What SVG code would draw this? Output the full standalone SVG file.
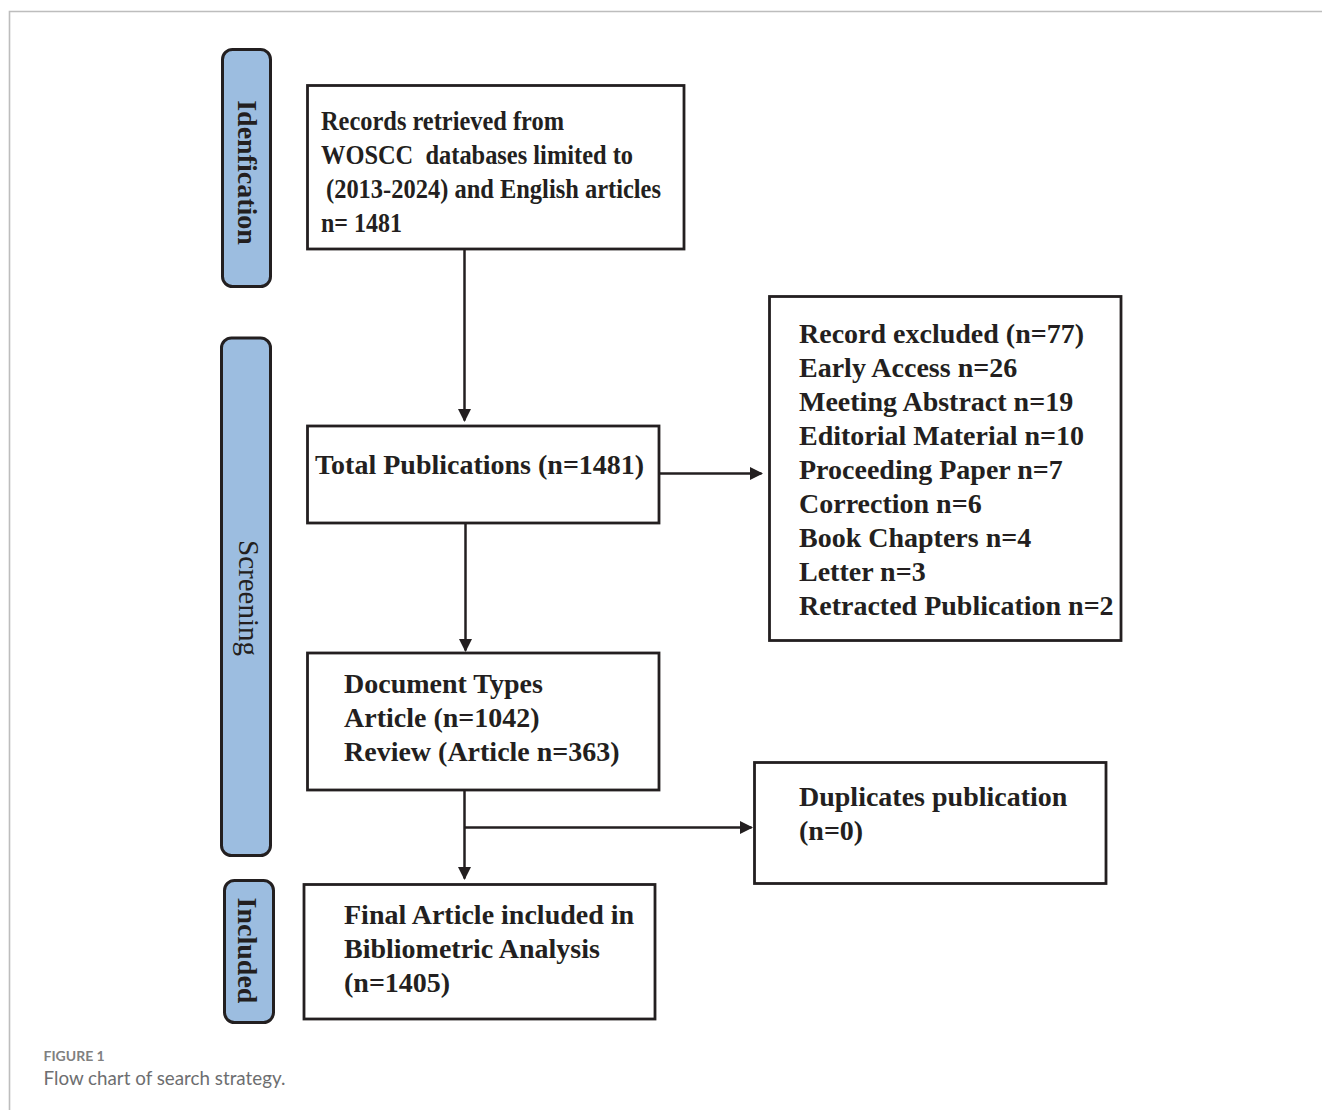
<svg xmlns="http://www.w3.org/2000/svg" width="1322" height="1110" viewBox="0 0 1322 1110">
<style>
.frame{fill:none;stroke:#bdbdbd;stroke-width:1.6}
.side{fill:#9cbde0;stroke:#231f20;stroke-width:3}
.box{fill:#ffffff;stroke:#231f20;stroke-width:2.8}
.t{font-family:"Liberation Serif","Times New Roman",serif;font-size:28px;font-weight:bold;fill:#231f20}
.sl{font-family:"Liberation Serif","Times New Roman",serif;font-size:28px;font-weight:bold;fill:#231f20;text-anchor:middle}
.conn{fill:none;stroke:#231f20;stroke-width:2.5}
.cap1{font-family:Lato,"Open Sans",sans-serif;font-size:14px;fill:#808080;font-weight:bold}
.cap2{font-family:Lato,"Open Sans",sans-serif;font-size:18.8px;fill:#6d6e70}
</style>
<defs>
<marker id="ah" viewBox="0 0 13 13" refX="11.5" refY="6.5" markerWidth="13" markerHeight="13" markerUnits="userSpaceOnUse" orient="auto">
<path d="M0,0 L13,6.5 L0,13 z" fill="#231f20"/>
</marker>
</defs>
<rect width="1322" height="1110" fill="#ffffff"/>
<path class="frame" d="M9.5,1110 V11.5 H1322"/>

<g id="stage-identification">
<rect class="side" x="222.5" y="49.5" width="48" height="237" rx="10"/>
<text class="sl" transform="translate(238,172.5) rotate(90)">Idenfication</text>
</g>
<g id="stage-screening">
<rect class="side" x="221.5" y="338" width="49" height="517.5" rx="10"/>
<text class="sl" style="font-weight:normal;font-size:29px" transform="translate(239,598) rotate(90)">Screening</text>
</g>
<g id="stage-included">
<rect class="side" x="224.5" y="880.5" width="49" height="142" rx="10"/>
<text class="sl" transform="translate(238,950.5) rotate(90)">Included</text>
</g>

<g id="node-records">
<rect class="box" x="307.5" y="85.5" width="376.5" height="163.5"/>
<text class="t" x="321" y="130" textLength="243" lengthAdjust="spacingAndGlyphs">Records retrieved from</text>
<text class="t" x="321" y="164" textLength="312" lengthAdjust="spacingAndGlyphs" xml:space="preserve">WOSCC  databases limited to</text>
<text class="t" x="326" y="198" textLength="335" lengthAdjust="spacingAndGlyphs">(2013-2024) and English articles</text>
<text class="t" x="321" y="232" textLength="81" lengthAdjust="spacingAndGlyphs">n= 1481</text>
</g>

<g id="node-total">
<rect class="box" x="307.5" y="426" width="351.5" height="97"/>
<text class="t" x="315" y="474">Total Publications (n=1481)</text>
</g>

<g id="node-excluded">
<rect class="box" x="769.5" y="296.5" width="351.5" height="344"/>
<text class="t" x="799" y="343">Record excluded (n=77)</text>
<text class="t" x="799" y="377">Early Access n=26</text>
<text class="t" x="799" y="411">Meeting Abstract n=19</text>
<text class="t" x="799" y="445">Editorial Material n=10</text>
<text class="t" x="799" y="479">Proceeding Paper n=7</text>
<text class="t" x="799" y="513">Correction n=6</text>
<text class="t" x="799" y="547">Book Chapters n=4</text>
<text class="t" x="799" y="581">Letter n=3</text>
<text class="t" x="799" y="615">Retracted Publication n=2</text>
</g>

<g id="node-doctypes">
<rect class="box" x="307.5" y="653" width="351.5" height="137"/>
<text class="t" x="344" y="693">Document Types</text>
<text class="t" x="344" y="727">Article (n=1042)</text>
<text class="t" x="344" y="761">Review (Article n=363)</text>
</g>

<g id="node-duplicates">
<rect class="box" x="754.5" y="762.5" width="351.5" height="121"/>
<text class="t" x="799" y="806">Duplicates publication</text>
<text class="t" x="799" y="840">(n=0)</text>
</g>

<g id="node-final">
<rect class="box" x="304" y="884.5" width="351" height="134.5"/>
<text class="t" x="344" y="924">Final Article included in</text>
<text class="t" x="344" y="958">Bibliometric Analysis</text>
<text class="t" x="344" y="992">(n=1405)</text>
</g>

<g id="connectors">
<path class="conn" d="M464.5,250 V420.5" marker-end="url(#ah)"/>
<path class="conn" d="M465.5,524 V650.5" marker-end="url(#ah)"/>
<path class="conn" d="M660,473.5 H761.5" marker-end="url(#ah)"/>
<path class="conn" d="M464.5,791 V878.5" marker-end="url(#ah)"/>
<path class="conn" d="M464.5,827.5 H751.5" marker-end="url(#ah)"/>
</g>

<g id="caption">
<text class="cap1" x="43.5" y="1061">FIGURE 1</text>
<text class="cap2" x="43.5" y="1085">Flow chart of search strategy.</text>
</g>
</svg>
